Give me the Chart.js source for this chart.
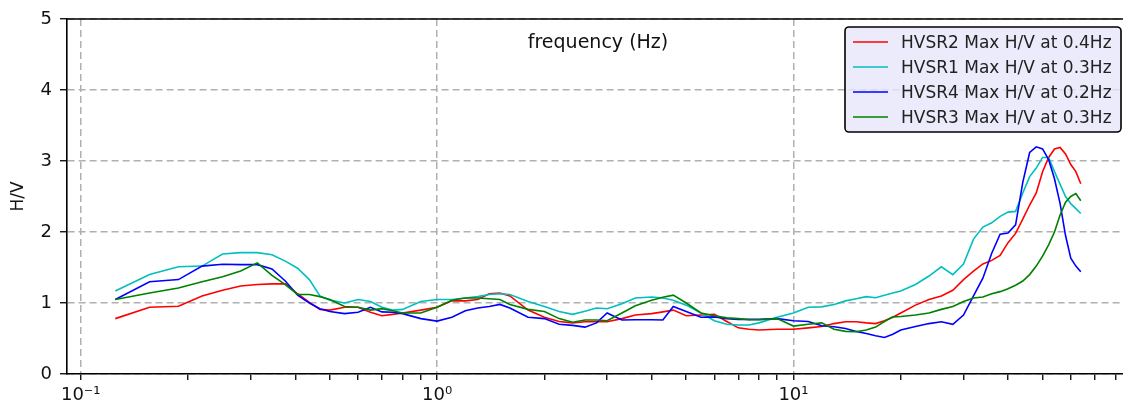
<!DOCTYPE html>
<html>
<head>
<meta charset="utf-8">
<script src="https://cdn.jsdelivr.net/npm/chart.js@4.4.0/dist/chart.umd.min.js"></script>
<style>
    html, body { margin: 0; padding: 0; background: #fff; overflow: hidden; }
    #wrap { width: 1123px; height: 412px; overflow: hidden; }
</style>
</head>
<body>
<div id="wrap"><canvas id="grafico" width="1135" height="412"></canvas></div>
<script>
const frequencias = [0.125, 0.156, 0.188, 0.219, 0.25, 0.281, 0.313, 0.344, 0.375, 0.406, 0.438, 0.469, 0.5,
    0.55, 0.6, 0.65, 0.7, 0.75, 0.8, 0.9, 1.0, 1.1, 1.2, 1.3, 1.4, 1.5, 1.6, 1.8, 2.0, 2.2, 2.4, 2.6, 2.8, 3.0,
    3.3, 3.6, 4.0, 4.3, 4.6, 5.0, 5.5, 6.0, 6.5, 7.0, 7.5, 8, 9, 10, 11, 12, 13, 14, 15, 16, 17, 18, 19, 20,
    22, 24, 26, 28, 30, 32, 34, 36, 38, 40, 42, 44, 46, 48, 50, 52, 54, 56, 58, 60, 62, 64];

const hvsr2 = [0.78, 0.94, 0.955, 1.10, 1.18, 1.24, 1.26, 1.27, 1.27, 1.13, 1.01, 0.91, 0.90,
    0.94, 0.94, 0.87, 0.82, 0.84, 0.86, 0.90, 0.94, 1.03, 1.03, 1.05, 1.13, 1.14, 1.10, 0.90, 0.80, 0.74, 0.72, 0.735, 0.735, 0.735,
    0.78, 0.83, 0.85, 0.875, 0.90, 0.82, 0.83, 0.84, 0.74, 0.65, 0.63, 0.62, 0.63, 0.63, 0.65, 0.67, 0.71, 0.735, 0.735, 0.72, 0.71, 0.75, 0.80, 0.86,
    0.97, 1.05, 1.10, 1.18, 1.33, 1.45, 1.55, 1.60, 1.67, 1.85, 1.98, 2.18, 2.38, 2.55, 2.85, 3.05, 3.17, 3.19, 3.10, 2.95, 2.85, 2.68];

const hvsr1 = [1.17, 1.40, 1.51, 1.52, 1.69, 1.71, 1.71, 1.68, 1.59, 1.49, 1.33, 1.10, 1.04,
    1.00, 1.05, 1.02, 0.94, 0.90, 0.91, 1.02, 1.05, 1.05, 1.07, 1.09, 1.12, 1.13, 1.12, 1.02, 0.95, 0.88, 0.84, 0.885, 0.93, 0.92,
    0.99, 1.07, 1.085, 1.07, 1.04, 0.97, 0.86, 0.75, 0.70, 0.69, 0.69, 0.72, 0.80, 0.86, 0.94, 0.945, 0.98, 1.03, 1.06, 1.09, 1.075, 1.11, 1.14, 1.17,
    1.26, 1.38, 1.51, 1.40, 1.55, 1.90, 2.07, 2.13, 2.22, 2.28, 2.29, 2.55, 2.78, 2.90, 3.05, 3.05, 2.85, 2.67, 2.50, 2.40, 2.33, 2.26];

const hvsr4 = [1.05, 1.30, 1.33, 1.52, 1.545, 1.54, 1.54, 1.48, 1.31, 1.11, 1.00, 0.92, 0.88,
    0.85, 0.87, 0.94, 0.875, 0.87, 0.85, 0.78, 0.745, 0.80, 0.89, 0.93, 0.95, 0.98, 0.93, 0.80, 0.78, 0.70, 0.685, 0.66, 0.72, 0.86,
    0.76, 0.765, 0.765, 0.76, 0.95, 0.88, 0.80, 0.805, 0.78, 0.77, 0.77, 0.77, 0.78, 0.75, 0.74, 0.68, 0.665, 0.64, 0.60, 0.57, 0.54, 0.515, 0.56, 0.62,
    0.67, 0.71, 0.735, 0.70, 0.83, 1.10, 1.35, 1.70, 1.97, 1.985, 2.10, 2.70, 3.12, 3.20, 3.17, 3.02, 2.75, 2.40, 1.95, 1.63, 1.52, 1.44];

const hvsr3 = [1.05, 1.14, 1.21, 1.30, 1.37, 1.45, 1.565, 1.39, 1.26, 1.12, 1.12, 1.09, 1.05,
    0.95, 0.94, 0.90, 0.92, 0.89, 0.86, 0.86, 0.94, 1.04, 1.07, 1.07, 1.06, 1.05, 0.98, 0.91, 0.88, 0.78, 0.73, 0.76, 0.76, 0.75,
    0.86, 0.96, 1.04, 1.08, 1.11, 1.00, 0.86, 0.82, 0.79, 0.78, 0.765, 0.765, 0.78, 0.675, 0.70, 0.72, 0.63, 0.60, 0.595, 0.62, 0.66, 0.74, 0.805, 0.81,
    0.83, 0.86, 0.91, 0.95, 1.02, 1.07, 1.085, 1.13, 1.16, 1.20, 1.25, 1.31, 1.40, 1.52, 1.66, 1.82, 2.00, 2.24, 2.42, 2.50, 2.54, 2.44];

const series = [hvsr2, hvsr1, hvsr4, hvsr3];
const legendas = ["HVSR2 Max H/V at 0.4Hz", "HVSR1 Max H/V at 0.3Hz", "HVSR4 Max H/V at 0.2Hz", "HVSR3 Max H/V at 0.3Hz"];
const cores = ["#ff0000", "#00bfbf", "#0000ff", "#008000"];

const ticksX = [0.1, 0.2, 0.3, 0.4, 0.5, 0.6, 0.7, 0.8, 0.9, 1, 2, 3, 4, 5, 6, 7, 8, 9, 10, 20, 30, 40, 50, 60, 70, 80];
const rotulosX = { "0.1": "10\u207B\u00B9", "1": "10\u2070", "10": "10\u00B9" };
const tituloX = "frequency (Hz)";
const tituloY = "H/V";

const fonte = "'DejaVu Sans', sans-serif";

function ehDecada(v) {
    const l = Math.log10(v);
    return Math.abs(l - Math.round(l)) < 1e-9;
}

const moldura = {
    id: "moldura",
    afterDraw(chart) {
        const ctx = chart.ctx;
        const a = chart.chartArea;
        ctx.save();
        ctx.strokeStyle = "#000";
        ctx.lineWidth = 1.5;
        ctx.beginPath();
        ctx.moveTo(a.left, a.top);
        ctx.lineTo(a.right, a.top);
        ctx.lineTo(a.right, a.bottom);
        ctx.stroke();

        ctx.fillStyle = "#111";
        ctx.font = "19px " + fonte;
        ctx.textAlign = "center";
        ctx.textBaseline = "middle";
        ctx.fillText(tituloX, (a.left + a.right) / 2, a.top + 24);

        // legenda
        const x0 = a.right - 284, y0 = a.top + 8, w = 276, h = 105;
        ctx.beginPath();
        ctx.roundRect(x0, y0, w, h, 4);
        ctx.fillStyle = "rgba(230, 230, 250, 0.8)";
        ctx.fill();
        ctx.lineWidth = 1.6;
        ctx.strokeStyle = "#000";
        ctx.stroke();
        ctx.textAlign = "left";
        ctx.font = "17px " + fonte;
        legendas.forEach((texto, i) => {
            const y = y0 + 15 + i * 25;
            ctx.strokeStyle = cores[i];
            ctx.lineWidth = 1.5;
            ctx.beginPath();
            ctx.moveTo(x0 + 8, y);
            ctx.lineTo(x0 + 43, y);
            ctx.stroke();
            ctx.fillStyle = "#222";
            ctx.fillText(texto, x0 + 56, y + 2);
        });
        ctx.restore();
    },
};

new Chart(document.getElementById("grafico").getContext("2d"), {
    type: "line",
    data: {
        datasets: series.map((valores, i) => ({
            label: legendas[i],
            data: valores.map((v, j) => ({ x: frequencias[j], y: v })),
            borderColor: cores[i],
            borderWidth: 1.6,
            pointRadius: 0,
            tension: 0,
            fill: false,
            order: series.length - i,
        })),
    },
    options: {
        responsive: false,
        devicePixelRatio: 1,
        animation: false,
        layout: { padding: { top: 19, right: 6, left: 0, bottom: 0 } },
        plugins: { legend: { display: false }, tooltip: { enabled: false } },
        scales: {
            x: {
                type: "logarithmic",
                min: 0.0915,
                max: 87.4,
                afterBuildTicks: (eixo) => {
                    eixo.ticks = ticksX.map((v) => ({ value: v }));
                },
                afterFit: (eixo) => {
                    eixo.height = 38;
                },
                ticks: {
                    autoSkip: false,
                    maxRotation: 0,
                    padding: 5,
                    color: "#111",
                    font: { family: fonte, size: 18 },
                    callback: (valor) => rotulosX[String(valor)] || "",
                },
                grid: {
                    color: (c) => (c.tick && ehDecada(c.tick.value) ? "#b0b0b0" : "transparent"),
                    lineWidth: 1.5,
                    tickColor: "#000",
                    tickLength: 6,
                    tickWidth: 1.3,
                },
                border: { display: true, color: "#000", width: 1.6, dash: [7, 4] },
            },
            y: {
                min: 0,
                max: 5,
                afterFit: (eixo) => {
                    eixo.width = 67;
                },
                ticks: {
                    stepSize: 1,
                    padding: 8,
                    color: "#111",
                    font: { family: fonte, size: 18 },
                },
                title: {
                    display: true,
                    text: tituloY,
                    color: "#111",
                    font: { family: fonte, size: 17 },
                    padding: { top: 8, bottom: 0 },
                },
                grid: {
                    color: "#b0b0b0",
                    lineWidth: 1.5,
                    tickColor: "#000",
                    tickLength: 7,
                    tickWidth: 1.3,
                },
                border: { display: true, color: "#000", width: 1.6, dash: [7, 4] },
            },
        },
    },
    plugins: [moldura],
});
</script>
</body>
</html>
